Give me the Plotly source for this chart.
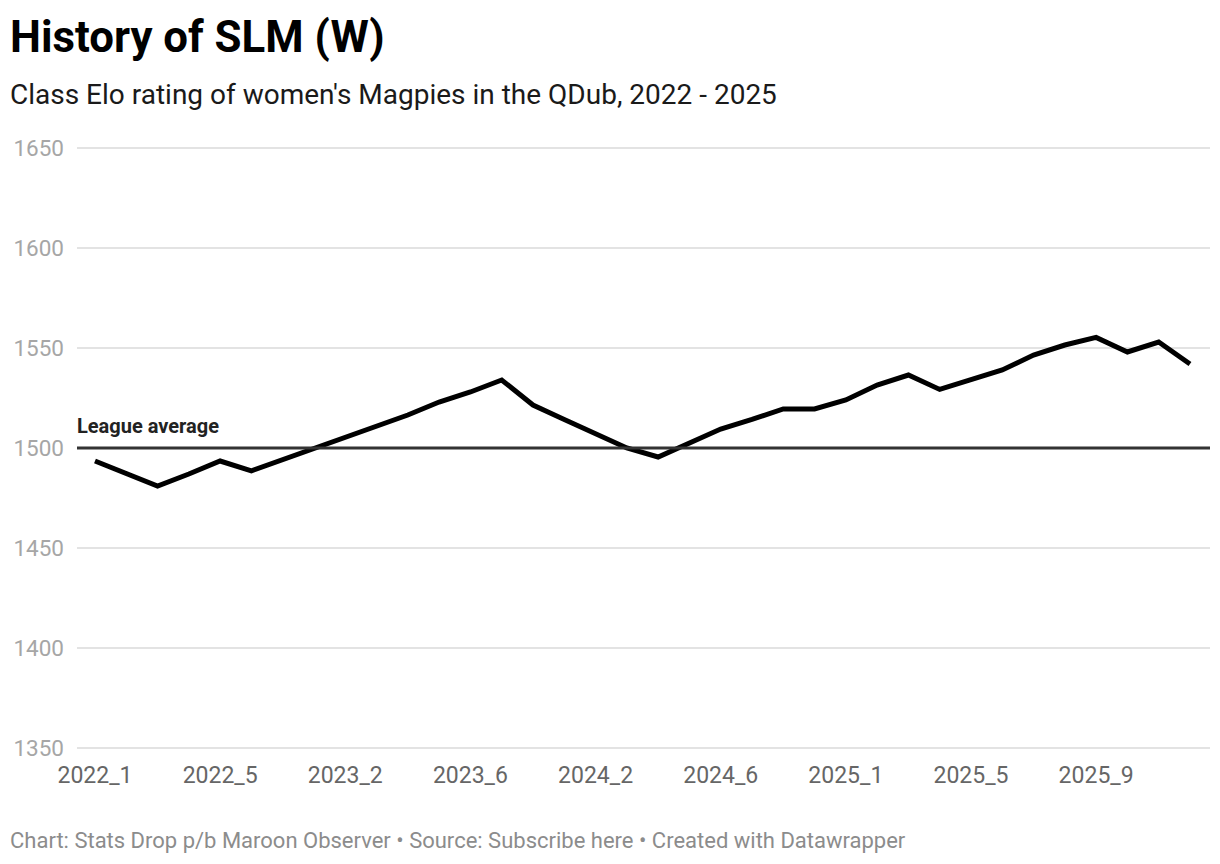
import plotly.graph_objects as go

# Categories (rounds) and values
rounds = (
    [f"2022_{i}" for i in range(1, 8)]
    + [f"2023_{i}" for i in range(1, 9)]
    + [f"2024_{i}" for i in range(1, 10)]
    + [f"2025_{i}" for i in range(1, 13)]
)
elo = [
    1493.5, 1487.3, 1481.0, 1487.0, 1493.5, 1488.6, 1494.2,
    1499.5, 1505.3, 1510.7, 1516.5, 1523.0, 1528.0, 1534.0, 1521.5,
    1514.3, 1507.0, 1500.0, 1495.5, 1502.5, 1509.5, 1514.3, 1519.5, 1519.5,
    1524.0, 1531.5, 1536.5, 1529.3, 1534.3, 1539.0, 1546.5, 1551.5, 1555.3, 1548.0, 1553.0, 1542.0,
]
x_ticks = ["2022_1", "2022_5", "2023_2", "2023_6", "2024_2", "2024_6", "2025_1", "2025_5", "2025_9"]
y_ticks = [1350, 1400, 1450, 1500, 1550, 1600, 1650]
league_avg = 1500

W, H = 1220, 864
L, R, T, B = 77, 10, 146, 864 - 750
pw, ph = W - L - R, H - T - B

def px(xp):
    return (xp - L) / pw

def py(yp):
    return (H - B - yp) / ph

FONT = "Roboto"

fig = go.Figure()
fig.add_trace(go.Scatter(
    x=rounds, y=elo, mode="lines",
    line=dict(color="#000000", width=5),
    hoverinfo="x+y", showlegend=False,
))

fig.add_shape(type="line", xref="paper", yref="y", x0=0, x1=1,
              y0=league_avg, y1=league_avg,
              line=dict(color="#333333", width=3), layer="above")

annotations = [
    dict(text="League average", xref="paper", yref="y", x=0, y=league_avg,
         xanchor="left", yanchor="bottom", yshift=8, xshift=-2, showarrow=False,
         font=dict(family=FONT, size=20, color="#222222", weight="bold")),
    dict(text="<b>History of SLM (W)</b>", xref="paper", yref="paper",
         x=px(8), y=py(37), xanchor="left", yanchor="middle", showarrow=False,
         font=dict(family=FONT, size=43.8, color="#000000")),
    dict(text="Class Elo rating of women's Magpies in the QDub, 2022 - 2025",
         xref="paper", yref="paper", x=px(8), y=py(95), xanchor="left",
         yanchor="middle", showarrow=False,
         font=dict(family=FONT, size=28, color="#1a1a1a")),
    dict(text="Chart: Stats Drop p/b Maroon Observer • Source: Subscribe here • Created with Datawrapper",
         xref="paper", yref="paper", x=px(8), y=py(840), xanchor="left",
         yanchor="middle", showarrow=False,
         font=dict(family=FONT, size=22, color="#8c8c8c")),
]

n = len(rounds)
fig.update_layout(
    width=W, height=H,
    margin=dict(l=L, r=R, t=T, b=B, pad=0),
    paper_bgcolor="white", plot_bgcolor="white",
    font=dict(family=FONT),
    annotations=annotations,
    xaxis=dict(
        type="category", categoryorder="array", categoryarray=rounds,
        range=[-0.575, n - 1 + 0.64],
        tickmode="array", tickvals=x_ticks, ticktext=x_ticks,
        showgrid=False, zeroline=False, showline=False, ticks="",
        tickfont=dict(family=FONT, size=23, color="#666666"),
        ticklabelstandoff=9,
    ),
    yaxis=dict(
        range=[1349, 1651], tickmode="array", tickvals=y_ticks,
        showgrid=True, gridcolor="#e3e3e3", gridwidth=2,
        zeroline=False, showline=False, ticks="",
        tickfont=dict(family=FONT, size=22.5, color="#a6a6a6"),
        ticklabelstandoff=12,
    ),
)

fig.write_html(
    "out.html",
    config={"displayModeBar": False},
    post_script="document.body.style.margin='0';document.body.style.overflow='hidden';",
)
